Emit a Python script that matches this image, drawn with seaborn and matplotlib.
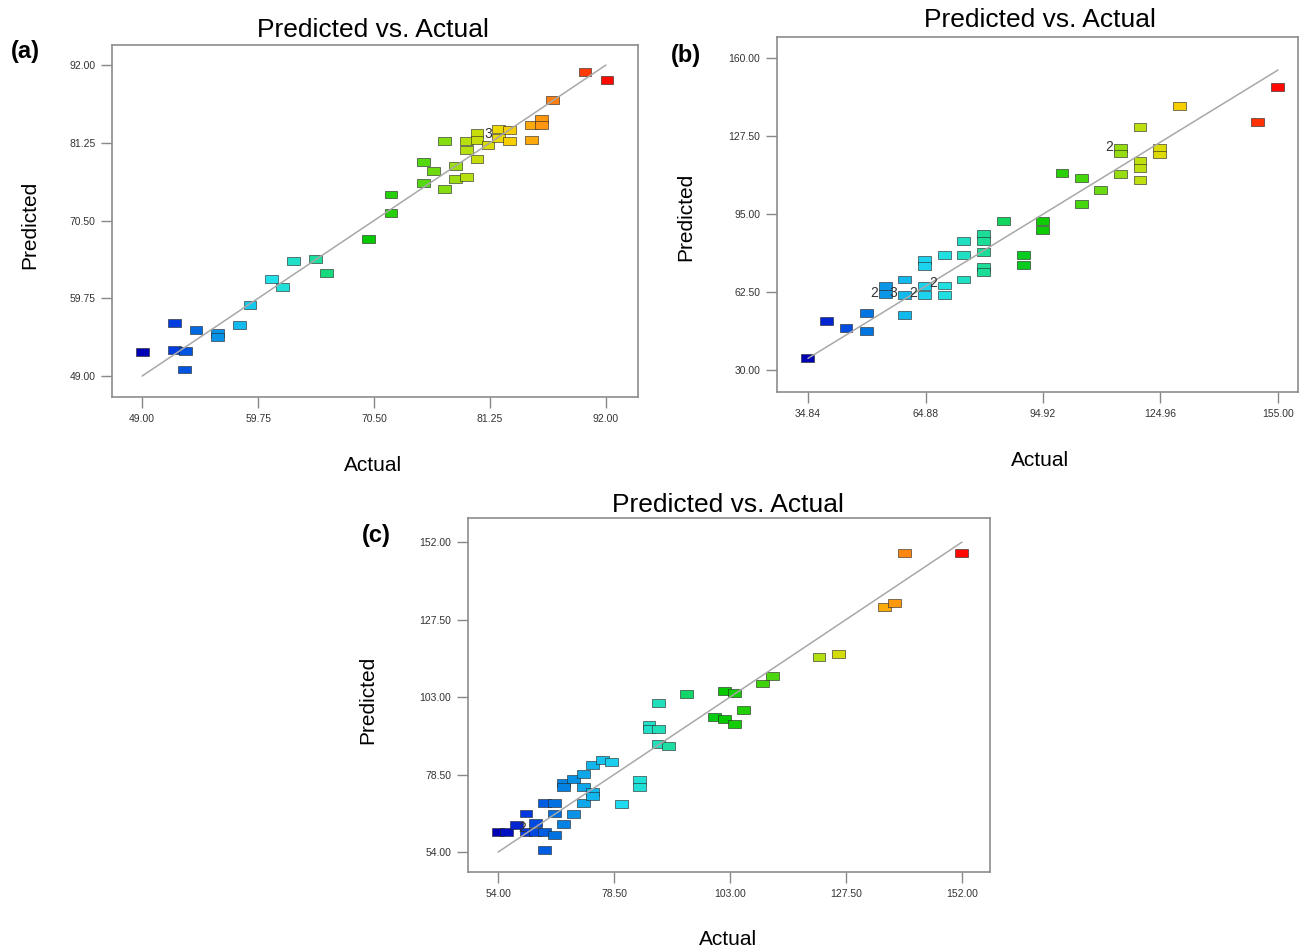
import numpy as np
import pandas as pd
import matplotlib
matplotlib.use("Agg")
import matplotlib.pyplot as plt
from matplotlib.colors import LinearSegmentedColormap
import seaborn as sns

# ---- panel (a) ----
a_actual = [49.0, 52.0, 52.0, 53.0, 52.96, 54.0, 56.0, 56.0, 58.0, 59.0, 61.0, 62.0, 63.0,
            65.07, 66.06, 70.0, 72.07, 72.07, 75.06, 76.05, 75.06, 77.07, 77.07, 78.08,
            78.08, 79.07, 79.07, 79.07, 80.05, 80.05, 80.05, 81.07, 82.06, 82.06, 83.08,
            83.08, 85.08, 85.08, 86.06, 86.06, 87.08, 90.07, 92.1]
a_pred = [52.36, 56.3, 52.6, 52.4, 49.9, 55.3, 55.0, 54.4, 56.05, 58.8, 62.45, 61.35, 64.85,
          65.2, 63.2, 67.94, 74.1, 71.6, 78.55, 77.4, 75.64, 81.5, 74.85, 78.07,
          76.2, 76.56, 81.5, 80.25, 82.64, 81.63, 78.96, 80.94, 83.1, 81.86, 83.0,
          81.5, 83.7, 81.63, 84.5, 83.7, 87.2, 90.99, 89.97]
a_ticks = [49.00, 59.75, 70.50, 81.25, 92.00]
a_ticklabels = ["49.00", "59.75", "70.50", "81.25", "92.00"]
a_notes = [("3", 81.1, 82.4)]

# ---- panel (b) ----
b_actual = [34.67, 39.6, 44.55, 49.7, 49.7, 54.7, 54.7, 59.6, 59.6, 59.6, 64.57, 64.57,
            64.57, 64.57, 69.7, 69.7, 69.7, 74.6, 74.6, 74.6, 79.8, 79.8, 79.8, 79.8, 79.8,
            84.8, 89.9, 89.9, 94.8, 94.8, 99.8, 104.7, 104.7, 109.7, 114.8, 114.8, 114.8,
            119.7, 119.7, 119.7, 119.7, 124.8, 124.8, 129.8, 149.8, 154.9]
b_pred = [34.8, 50.3, 47.3, 53.8, 46.2, 64.9, 61.5, 67.7, 61.2, 53.1, 76.0, 73.25,
          64.9, 61.2, 77.8, 65.2, 61.2, 83.7, 77.8, 67.7, 86.7, 83.7, 79.25, 72.8, 70.75,
          92.0, 77.8, 73.7, 92.0, 88.25, 111.9, 110.1, 99.25, 104.9, 122.6, 120.2, 111.75,
          131.3, 117.0, 114.25, 109.0, 122.6, 119.8, 140.2, 133.25, 147.8]
b_ticks = [34.84, 64.88, 94.92, 124.96, 155.00]
b_ticklabels = ["34.84", "64.88", "94.92", "124.96", "155.00"]
b_yticks = [30.00, 62.50, 95.00, 127.50, 160.00]
b_yticklabels = ["30.00", "62.50", "95.00", "127.50", "160.00"]
b_notes = [("2", 51.8, 61.9), ("3", 56.6, 61.9), ("2", 61.8, 61.9),
           ("2", 66.9, 66.3), ("2", 111.9, 123.0)]

# ---- panel (c) ----
c_actual = [54.0, 55.8, 57.9, 59.9, 59.9, 62.0, 62.0, 63.9, 63.9, 63.9, 65.9, 65.9, 65.9,
            67.9, 67.9, 67.9, 69.9, 69.9, 72.0, 72.0, 72.0, 74.0, 74.0, 74.0, 76.0, 78.0,
            80.0, 83.85, 83.85, 85.9, 85.9, 87.9, 87.9, 87.9, 90.0, 93.85, 99.8, 101.9,
            101.9, 103.9, 103.9, 105.8, 109.9, 111.9, 121.8, 125.9, 135.7, 137.8, 139.8,
            151.9]
c_pred = [60.4, 60.4, 62.5, 66.2, 60.4, 63.3, 60.4, 69.6, 60.4, 54.6, 69.6, 66.2, 59.4,
          75.7, 74.6, 62.85, 77.0, 66.0, 78.7, 74.6, 69.6, 81.5, 73.1, 71.8, 83.1, 82.55,
          69.1, 76.8, 74.6, 94.15, 92.8, 101.2, 92.9, 88.15, 87.6, 103.85, 96.8, 105.0,
          96.05, 104.4, 94.5, 98.9, 107.3, 109.7, 115.75, 116.6, 131.55, 132.9, 148.6,
          148.6]
c_ticks = [54.00, 78.50, 103.00, 127.50, 152.00]
c_ticklabels = ["54.00", "78.50", "103.00", "127.50", "152.00"]
c_notes = [("2", 59.0, 61.5)]

sns.set_theme(style="white")
plt.rcParams["font.family"] = ["Liberation Sans", "DejaVu Sans"]

# Design-Expert style spectrum: blue -> cyan -> green -> yellow -> red
spectrum = LinearSegmentedColormap.from_list("de", [
    (0.00, "#0000b4"), (0.06, "#0038e0"), (0.12, "#0070e0"), (0.20, "#10b4ec"),
    (0.27, "#20e0f0"), (0.36, "#20e0b0"), (0.48, "#00c800"), (0.60, "#50d810"),
    (0.70, "#b8e010"), (0.78, "#f5d800"), (0.87, "#ff9010"), (1.00, "#ff0a00")])

rect = np.array([[-1, -0.62], [1, -0.62], [1, 0.62], [-1, 0.62], [-1, -0.62]])

fig = plt.figure(figsize=(13.08, 9.52), dpi=100)
ax_a = fig.add_axes([0.0856, 0.583, 0.4021, 0.3697])
ax_b = fig.add_axes([0.594, 0.5882, 0.3983, 0.3729])
ax_c = fig.add_axes([0.3578, 0.084, 0.399, 0.3718])

panels = [
    (ax_a, a_actual, a_pred, a_ticks, a_ticklabels, a_ticks, a_ticklabels, a_notes,
     (46.2, 94.97), (46.1, 94.77), (0.496, 1.0426), (0.496, -0.196), (-0.156, 0.489)),
    (ax_b, b_actual, b_pred, b_ticks, b_ticklabels, b_yticks, b_yticklabels, b_notes,
     (26.9, 160.1), (20.8, 168.75), (0.505, 1.048), (0.505, -0.194), (-0.175, 0.493)),
    (ax_c, c_actual, c_pred, c_ticks, c_ticklabels, c_ticks, c_ticklabels, c_notes,
     (47.66, 157.9), (47.7, 159.6), (0.498, 1.0367), (0.498, -0.192), (-0.192, 0.486)),
]

for (ax, act, pred, xt, xtl, yt, ytl, notes, xl, yl, tpos, xpos, ypos) in panels:
    df = pd.DataFrame({"Actual": act, "Predicted": pred})
    sns.scatterplot(data=df, x="Actual", y="Predicted", hue="Actual", palette=spectrum,
                    hue_norm=(min(act), max(act)), marker=rect, s=85,
                    edgecolor=(0.15, 0.15, 0.15, 0.6), linewidth=0.7, legend=False,
                    ax=ax, zorder=2)
    ax.plot([xt[0], xt[-1]], [xt[0], xt[-1]], color="#a8a8a8", lw=1.1, zorder=3)
    for txt, x, y in notes:
        ax.text(x, y, txt, fontsize=10, color="#333333", ha="center", va="center", zorder=4)
    ax.set_xlim(*xl)
    ax.set_ylim(*yl)
    ax.set_xticks(xt, xtl)
    ax.set_yticks(yt, ytl)
    ax.tick_params(axis="both", which="major", direction="out", length=8, width=1,
                   color="#888888", labelsize=7.5, labelcolor="#333333", pad=4,
                   bottom=True, left=True)
    for sp in ax.spines.values():
        sp.set_color("#8c8c8c")
        sp.set_linewidth(1.2)
    ax.set_title("Predicted vs. Actual", fontsize=19, x=tpos[0], y=tpos[1],
                 va="center", pad=0, color="black")
    ax.set_xlabel("Actual", fontsize=15, va="center", color="black")
    ax.xaxis.set_label_coords(*xpos)
    ax.set_ylabel("Predicted", fontsize=15, va="center", color="black")
    ax.yaxis.set_label_coords(*ypos)

fig.text(0.0191, 0.9454, "(a)", fontsize=17, fontweight="bold", ha="center", va="center",
         color="black")
fig.text(0.5245, 0.9422, "(b)", fontsize=17, fontweight="bold", ha="center", va="center",
         color="black")
fig.text(0.2875, 0.437, "(c)", fontsize=17, fontweight="bold", ha="center", va="center",
         color="black")

fig.savefig("out.png", dpi=100, facecolor="white")
